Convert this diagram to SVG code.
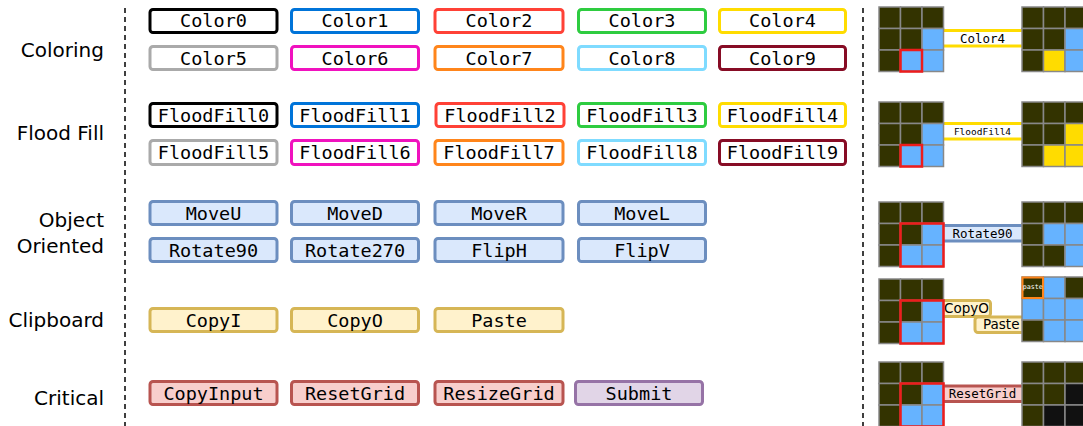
<svg xmlns="http://www.w3.org/2000/svg" width="1083" height="426" viewBox="0 0 1083 426">
<style>
.cat{font-family:"DejaVu Sans",sans-serif;font-size:20px;fill:#000;text-anchor:end}
.nb{stroke-width:3;fill:#fff}
.nt{font-family:"DejaVu Sans Mono",monospace;font-size:18.5px;fill:#000;text-anchor:middle}
.oo{fill:#dae8fc;stroke:#6c8ebf}
.cb{fill:#fff2cc;stroke:#d6b656}
.cr{fill:#f8cecc;stroke:#b85450}
.sb{fill:#e1d5e7;stroke:#9673a6}
.sep{stroke:#000;stroke-width:1.5;stroke-dasharray:5,4;fill:none}
.D{fill:#333300;stroke:#888;stroke-width:1.5}
.B{fill:#66b3ff;stroke:#888;stroke-width:1.5}
.Y{fill:#ffdc00;stroke:#888;stroke-width:1.5}
.K{fill:#111;stroke:#888;stroke-width:1.5}
.sel{fill:none;stroke:#ee1c1c;stroke-width:2.5}
.ct{font-family:"DejaVu Sans Mono",monospace;font-size:12.5px;fill:#000;text-anchor:middle}
.cs{font-family:"DejaVu Sans",sans-serif;font-size:13.5px;fill:#000}
</style>
<rect width="1083" height="426" fill="#fff"/>
<g id="labels">
<text class="cat" x="104" y="57">Coloring</text>
<text class="cat" x="104" y="140">Flood Fill</text>
<text class="cat" x="104" y="227">Object</text>
<text class="cat" x="104" y="253">Oriented</text>
<text class="cat" x="104" y="327">Clipboard</text>
<text class="cat" x="104" y="405">Critical</text>
</g>
<g id="separators">
<line class="sep" x1="125" y1="8" x2="125" y2="426"/>
<line class="sep" x1="863" y1="8" x2="863" y2="426"/>
</g>
<g id="coloring">
<g id="Color0"><rect class="nb" x="150" y="9.5" width="127" height="23" rx="3" stroke="#000000"/><text class="nt" x="213.5" y="27">Color0</text></g>
<g id="Color1"><rect class="nb" x="291.5" y="9.5" width="127" height="23" rx="3" stroke="#0074d9"/><text class="nt" x="355" y="27">Color1</text></g>
<g id="Color2"><rect class="nb" x="435" y="9.5" width="128" height="23" rx="3" stroke="#ff4136"/><text class="nt" x="499" y="27">Color2</text></g>
<g id="Color3"><rect class="nb" x="578.5" y="9.5" width="127" height="23" rx="3" stroke="#2ecc40"/><text class="nt" x="642" y="27">Color3</text></g>
<g id="Color4"><rect class="nb" x="719.5" y="9.5" width="126" height="23" rx="3" stroke="#ffdc00"/><text class="nt" x="782.5" y="27">Color4</text></g>
<g id="Color5"><rect class="nb" x="150" y="46.5" width="127" height="23" rx="3" stroke="#aaaaaa"/><text class="nt" x="213.5" y="64.5">Color5</text></g>
<g id="Color6"><rect class="nb" x="291.5" y="46.5" width="127" height="23" rx="3" stroke="#f012be"/><text class="nt" x="355" y="64.5">Color6</text></g>
<g id="Color7"><rect class="nb" x="435" y="46.5" width="128" height="23" rx="3" stroke="#ff851b"/><text class="nt" x="499" y="64.5">Color7</text></g>
<g id="Color8"><rect class="nb" x="578.5" y="46.5" width="127" height="23" rx="3" stroke="#7fdbff"/><text class="nt" x="642" y="64.5">Color8</text></g>
<g id="Color9"><rect class="nb" x="719.5" y="46.5" width="126" height="23" rx="3" stroke="#870c25"/><text class="nt" x="782.5" y="64.5">Color9</text></g>
</g>
<g id="floodfill">
<g id="FloodFill0"><rect class="nb" x="150" y="103.5" width="127" height="23" rx="3" stroke="#000000"/><text class="nt" x="213.5" y="121.5">FloodFill0</text></g>
<g id="FloodFill1"><rect class="nb" x="291.5" y="103.5" width="127" height="23" rx="3" stroke="#0074d9"/><text class="nt" x="355" y="121.5">FloodFill1</text></g>
<g id="FloodFill2"><rect class="nb" x="436" y="103.5" width="128" height="23" rx="3" stroke="#ff4136"/><text class="nt" x="500" y="121.5">FloodFill2</text></g>
<g id="FloodFill3"><rect class="nb" x="578.5" y="103.5" width="127" height="23" rx="3" stroke="#2ecc40"/><text class="nt" x="642" y="121.5">FloodFill3</text></g>
<g id="FloodFill4"><rect class="nb" x="719.5" y="103.5" width="126" height="23" rx="3" stroke="#ffdc00"/><text class="nt" x="782.5" y="121.5">FloodFill4</text></g>
<g id="FloodFill5"><rect class="nb" x="150" y="140.5" width="127" height="24" rx="3" stroke="#aaaaaa"/><text class="nt" x="213.5" y="159">FloodFill5</text></g>
<g id="FloodFill6"><rect class="nb" x="291.5" y="140.5" width="127" height="24" rx="3" stroke="#f012be"/><text class="nt" x="355" y="159">FloodFill6</text></g>
<g id="FloodFill7"><rect class="nb" x="435" y="140.5" width="128" height="24" rx="3" stroke="#ff851b"/><text class="nt" x="499" y="159">FloodFill7</text></g>
<g id="FloodFill8"><rect class="nb" x="578.5" y="140.5" width="127" height="24" rx="3" stroke="#7fdbff"/><text class="nt" x="642" y="159">FloodFill8</text></g>
<g id="FloodFill9"><rect class="nb" x="719.5" y="140.5" width="126" height="24" rx="3" stroke="#870c25"/><text class="nt" x="782.5" y="159">FloodFill9</text></g>
</g>
<g id="objectoriented">
<g id="MoveU"><rect class="oo" stroke-width="3" x="150" y="201.5" width="127" height="23" rx="3"/><text class="nt" x="213.5" y="219.5">MoveU</text></g>
<g id="MoveD"><rect class="oo" stroke-width="3" x="291.5" y="201.5" width="127" height="23" rx="3"/><text class="nt" x="355" y="219.5">MoveD</text></g>
<g id="MoveR"><rect class="oo" stroke-width="3" x="435" y="201.5" width="128" height="23" rx="3"/><text class="nt" x="499" y="219.5">MoveR</text></g>
<g id="MoveL"><rect class="oo" stroke-width="3" x="578.5" y="201.5" width="127" height="23" rx="3"/><text class="nt" x="642" y="219.5">MoveL</text></g>
<g id="Rotate90"><rect class="oo" stroke-width="3" x="150" y="238.5" width="127" height="23" rx="3"/><text class="nt" x="213.5" y="256.5">Rotate90</text></g>
<g id="Rotate270"><rect class="oo" stroke-width="3" x="291.5" y="238.5" width="127" height="23" rx="3"/><text class="nt" x="355" y="256.5">Rotate270</text></g>
<g id="FlipH"><rect class="oo" stroke-width="3" x="435" y="238.5" width="128" height="23" rx="3"/><text class="nt" x="499" y="256.5">FlipH</text></g>
<g id="FlipV"><rect class="oo" stroke-width="3" x="578.5" y="238.5" width="127" height="23" rx="3"/><text class="nt" x="642" y="256.5">FlipV</text></g>
</g>
<g id="clipboard">
<g id="CopyI"><rect class="cb" stroke-width="3" x="150" y="308.5" width="127" height="23" rx="3"/><text class="nt" x="213.5" y="326.5">CopyI</text></g>
<g id="CopyO"><rect class="cb" stroke-width="3" x="291.5" y="308.5" width="127" height="23" rx="3"/><text class="nt" x="355" y="326.5">CopyO</text></g>
<g id="Paste"><rect class="cb" stroke-width="3" x="435" y="308.5" width="128" height="23" rx="3"/><text class="nt" x="499" y="326.5">Paste</text></g>
</g>
<g id="critical">
<g id="CopyInput"><rect class="cr" stroke-width="3" x="150" y="381.5" width="127" height="23" rx="3"/><text class="nt" x="213.5" y="399.5">CopyInput</text></g>
<g id="ResetGrid"><rect class="cr" stroke-width="3" x="291.5" y="381.5" width="127" height="23" rx="3"/><text class="nt" x="355" y="399.5">ResetGrid</text></g>
<g id="ResizeGrid"><rect class="cr" stroke-width="3" x="435" y="381.5" width="128" height="23" rx="3"/><text class="nt" x="499" y="399.5">ResizeGrid</text></g>
<g id="Submit"><rect class="sb" stroke-width="3" x="575.5" y="381.5" width="127" height="23" rx="3"/><text class="nt" x="639" y="399.5">Submit</text></g>
</g>
<g id="connectors">
<rect x="930" y="30.5" width="100" height="15.5" fill="#fff" stroke="#ffdc00" stroke-width="3"/>
<text class="ct" x="982.5" y="42.5">Color4</text>
<rect x="930" y="123.5" width="100" height="15.5" fill="#fff" stroke="#ffdc00" stroke-width="3"/>
<text x="982.5" y="134.5" font-family="DejaVu Sans Mono, monospace" font-size="9.5" text-anchor="middle">FloodFill4</text>
<rect x="930" y="225.5" width="100" height="15.5" fill="#dae8fc" stroke="#6c8ebf" stroke-width="3"/>
<text class="ct" x="982.5" y="237.5">Rotate90</text>
<rect x="930" y="300.5" width="60.5" height="16" rx="3" fill="#fff2cc" stroke="#d6b656" stroke-width="3"/>
<text class="cs" x="944" y="313">CopyO</text>
<rect x="975" y="317" width="60" height="15.5" rx="3" fill="#fff2cc" stroke="#d6b656" stroke-width="3"/>
<text class="cs" x="983" y="328.5">Paste</text>
<rect x="930" y="386" width="100" height="15.5" fill="#f8cecc" stroke="#b85450" stroke-width="3"/>
<text class="ct" x="982.5" y="398">ResetGrid</text>
</g>
<g id="grid-coloring-in">
<rect class="D" x="879" y="7" width="21.5" height="21.5"/><rect class="D" x="900.5" y="7" width="21.5" height="21.5"/><rect class="D" x="922" y="7" width="21.5" height="21.5"/>
<rect class="D" x="879" y="28.5" width="21.5" height="21.5"/><rect class="D" x="900.5" y="28.5" width="21.5" height="21.5"/><rect class="B" x="922" y="28.5" width="21.5" height="21.5"/>
<rect class="D" x="879" y="50" width="21.5" height="21.5"/><rect class="B" x="900.5" y="50" width="21.5" height="21.5"/><rect class="B" x="922" y="50" width="21.5" height="21.5"/>
<rect class="sel" x="900.5" y="50" width="21.5" height="21.5"/>
</g>
<g id="grid-coloring-out">
<rect class="D" x="1022" y="7" width="21.5" height="21.5"/><rect class="D" x="1043.5" y="7" width="21.5" height="21.5"/><rect class="D" x="1065" y="7" width="21.5" height="21.5"/>
<rect class="D" x="1022" y="28.5" width="21.5" height="21.5"/><rect class="D" x="1043.5" y="28.5" width="21.5" height="21.5"/><rect class="B" x="1065" y="28.5" width="21.5" height="21.5"/>
<rect class="D" x="1022" y="50" width="21.5" height="21.5"/><rect class="Y" x="1043.5" y="50" width="21.5" height="21.5"/><rect class="B" x="1065" y="50" width="21.5" height="21.5"/>
</g>
<g id="grid-flood-in">
<rect class="D" x="879" y="102" width="21.5" height="21.5"/><rect class="D" x="900.5" y="102" width="21.5" height="21.5"/><rect class="D" x="922" y="102" width="21.5" height="21.5"/>
<rect class="D" x="879" y="123.5" width="21.5" height="21.5"/><rect class="D" x="900.5" y="123.5" width="21.5" height="21.5"/><rect class="B" x="922" y="123.5" width="21.5" height="21.5"/>
<rect class="D" x="879" y="145" width="21.5" height="21.5"/><rect class="B" x="900.5" y="145" width="21.5" height="21.5"/><rect class="B" x="922" y="145" width="21.5" height="21.5"/>
<rect class="sel" x="900.5" y="145" width="21.5" height="21.5"/>
</g>
<g id="grid-flood-out">
<rect class="D" x="1022" y="102" width="21.5" height="21.5"/><rect class="D" x="1043.5" y="102" width="21.5" height="21.5"/><rect class="D" x="1065" y="102" width="21.5" height="21.5"/>
<rect class="D" x="1022" y="123.5" width="21.5" height="21.5"/><rect class="D" x="1043.5" y="123.5" width="21.5" height="21.5"/><rect class="Y" x="1065" y="123.5" width="21.5" height="21.5"/>
<rect class="D" x="1022" y="145" width="21.5" height="21.5"/><rect class="Y" x="1043.5" y="145" width="21.5" height="21.5"/><rect class="Y" x="1065" y="145" width="21.5" height="21.5"/>
</g>
<g id="grid-object-in">
<rect class="D" x="879" y="202" width="21.5" height="21.5"/><rect class="D" x="900.5" y="202" width="21.5" height="21.5"/><rect class="D" x="922" y="202" width="21.5" height="21.5"/>
<rect class="D" x="879" y="223.5" width="21.5" height="21.5"/><rect class="D" x="900.5" y="223.5" width="21.5" height="21.5"/><rect class="B" x="922" y="223.5" width="21.5" height="21.5"/>
<rect class="D" x="879" y="245" width="21.5" height="21.5"/><rect class="B" x="900.5" y="245" width="21.5" height="21.5"/><rect class="B" x="922" y="245" width="21.5" height="21.5"/>
<rect class="sel" x="900.5" y="223.5" width="43" height="43"/>
</g>
<g id="grid-object-out">
<rect class="D" x="1022" y="202" width="21.5" height="21.5"/><rect class="D" x="1043.5" y="202" width="21.5" height="21.5"/><rect class="D" x="1065" y="202" width="21.5" height="21.5"/>
<rect class="D" x="1022" y="223.5" width="21.5" height="21.5"/><rect class="B" x="1043.5" y="223.5" width="21.5" height="21.5"/><rect class="B" x="1065" y="223.5" width="21.5" height="21.5"/>
<rect class="D" x="1022" y="245" width="21.5" height="21.5"/><rect class="D" x="1043.5" y="245" width="21.5" height="21.5"/><rect class="B" x="1065" y="245" width="21.5" height="21.5"/>
</g>
<g id="grid-clip-in">
<rect class="D" x="879" y="279" width="21.5" height="21.5"/><rect class="D" x="900.5" y="279" width="21.5" height="21.5"/><rect class="D" x="922" y="279" width="21.5" height="21.5"/>
<rect class="D" x="879" y="300.5" width="21.5" height="21.5"/><rect class="D" x="900.5" y="300.5" width="21.5" height="21.5"/><rect class="B" x="922" y="300.5" width="21.5" height="21.5"/>
<rect class="D" x="879" y="322" width="21.5" height="21.5"/><rect class="B" x="900.5" y="322" width="21.5" height="21.5"/><rect class="B" x="922" y="322" width="21.5" height="21.5"/>
<rect class="sel" x="900.5" y="300.5" width="43" height="43"/>
</g>
<g id="grid-clip-out">
<rect class="D" x="1022" y="277" width="21.5" height="21.5"/><rect class="B" x="1043.5" y="277" width="21.5" height="21.5"/><rect class="D" x="1065" y="277" width="21.5" height="21.5"/>
<rect class="B" x="1022" y="298.5" width="21.5" height="21.5"/><rect class="B" x="1043.5" y="298.5" width="21.5" height="21.5"/><rect class="B" x="1065" y="298.5" width="21.5" height="21.5"/>
<rect class="D" x="1022" y="320" width="21.5" height="21.5"/><rect class="B" x="1043.5" y="320" width="21.5" height="21.5"/><rect class="B" x="1065" y="320" width="21.5" height="21.5"/>
<rect x="1022.5" y="277.5" width="20.5" height="20.5" fill="none" stroke="#ff851b" stroke-width="2"/>
<text x="1032.7" y="289" font-family="DejaVu Sans Mono, monospace" font-size="6.7" fill="#fff" text-anchor="middle">paste</text>
</g>
<g id="grid-crit-in">
<rect class="D" x="879" y="362" width="21.5" height="21.5"/><rect class="D" x="900.5" y="362" width="21.5" height="21.5"/><rect class="D" x="922" y="362" width="21.5" height="21.5"/>
<rect class="D" x="879" y="383.5" width="21.5" height="21.5"/><rect class="D" x="900.5" y="383.5" width="21.5" height="21.5"/><rect class="B" x="922" y="383.5" width="21.5" height="21.5"/>
<rect class="D" x="879" y="405" width="21.5" height="21.5"/><rect class="B" x="900.5" y="405" width="21.5" height="21.5"/><rect class="B" x="922" y="405" width="21.5" height="21.5"/>
<rect class="sel" x="900.5" y="383.5" width="43" height="43"/>
</g>
<g id="grid-crit-out">
<rect class="D" x="1022" y="362" width="21.5" height="21.5"/><rect class="D" x="1043.5" y="362" width="21.5" height="21.5"/><rect class="D" x="1065" y="362" width="21.5" height="21.5"/>
<rect class="D" x="1022" y="383.5" width="21.5" height="21.5"/><rect class="D" x="1043.5" y="383.5" width="21.5" height="21.5"/><rect class="K" x="1065" y="383.5" width="21.5" height="21.5"/>
<rect class="D" x="1022" y="405" width="21.5" height="21.5"/><rect class="K" x="1043.5" y="405" width="21.5" height="21.5"/><rect class="K" x="1065" y="405" width="21.5" height="21.5"/>
</g>
</svg>
